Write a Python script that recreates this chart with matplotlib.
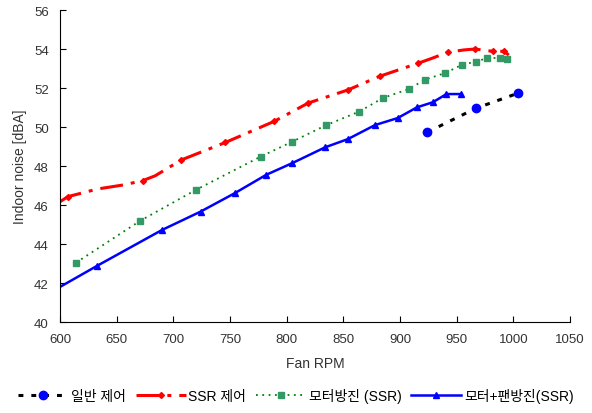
import matplotlib
matplotlib.use('Agg')
import matplotlib.pyplot as plt

plt.rcParams['font.family'] = ['Liberation Sans', 'Noto Sans CJK KR', 'DejaVu Sans']

# 일반 제어
rpm_normal = [924, 967, 1004]
noise_normal = [49.73, 50.96, 51.73]

# SSR 제어
rpm_ssr = [600, 607, 633, 656, 673, 684, 707, 746, 789, 819, 854, 882,
           916, 929, 942, 956, 966, 982, 992, 996]
noise_ssr = [46.17, 46.43, 46.82, 47.03, 47.25, 47.5, 48.31, 49.21, 50.29, 51.23,
             51.9, 52.6, 53.27, 53.54, 53.83, 53.95, 54.0, 53.88, 53.88, 53.69]
ssr_marks = [1, 4, 6, 7, 8, 9, 10, 11, 12, 14, 16, 17, 18]

# 모터방진 (SSR)
rpm_motor = [614, 671, 720, 777, 805, 835, 864, 885, 908, 922, 940, 955, 967, 977, 988, 994]
noise_motor = [43.04, 45.2, 46.78, 48.48, 49.25, 50.1, 50.79, 51.49, 51.95,
               52.43, 52.77, 53.2, 53.35, 53.54, 53.54, 53.49]

# 모터+팬방진(SSR)
rpm_fan = [600, 633, 690, 724, 754, 782, 805, 834, 854, 878, 898, 915, 929, 941, 954]
noise_fan = [41.8, 42.89, 44.72, 45.66, 46.6, 47.55, 48.15, 48.96, 49.38,
             50.1, 50.46, 51.01, 51.27, 51.69, 51.69]

labels = ['일반 제어', 'SSR 제어', '모터방진 (SSR)', '모터+팬방진(SSR)']

fig = plt.figure(figsize=(5.92, 4.14), dpi=100)
ax = fig.add_axes([0.1014, 0.2198, 0.8614, 0.7536])

ax.plot(rpm_normal, noise_normal, color='black', lw=2.2, dashes=(1.6, 2.6),
        marker='o', ms=6, mfc='#0000FF', mec='#0000FF', label=labels[0])
ax.plot(rpm_ssr, noise_ssr, color='#FF0000', lw=2.2, dashes=(7.5, 2.6, 1.3, 2.6),
        marker='D', ms=3, mfc='#FF0000', mec='#FF0000', markevery=ssr_marks,
        label=labels[1])
ax.plot(rpm_motor, noise_motor, color='#008000', lw=1.3, dashes=(1, 2.5),
        marker='s', ms=5, mfc='#339966', mec='#339966', label=labels[2])
ax.plot(rpm_fan, noise_fan, color='#0000FF', lw=1.8, marker='^', ms=4.5,
        markevery=list(range(1, len(rpm_fan))), label=labels[3])

ax.set_xlim(600, 1050)
ax.set_ylim(40, 56)
ax.set_xticks(range(600, 1051, 50))
ax.set_yticks(range(40, 57, 2))
ax.spines['top'].set_visible(False)
ax.spines['right'].set_visible(False)
ax.tick_params(direction='in', length=4, labelsize=9.5, labelcolor='#333333', pad=8)
ax.set_xlabel('Fan RPM', fontsize=10, color='#333333', labelpad=8)
ax.set_ylabel('Indoor noise [dBA]', fontsize=10, color='#333333', labelpad=5)

fig.legend(loc='lower center', bbox_to_anchor=(0.5, -0.005), ncol=4, frameon=False,
           fontsize=10, handlelength=3.6, columnspacing=0.7, handletextpad=0.2)

fig.savefig('out.png', dpi=100)
